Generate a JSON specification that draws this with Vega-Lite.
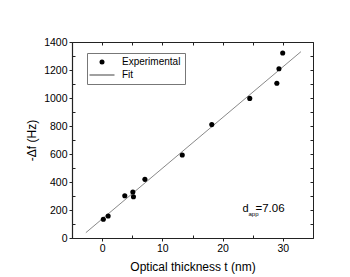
{
  "$schema": "https://vega.github.io/schema/vega-lite/v6.json",
  "width": 241,
  "height": 196,
  "autosize": {"type": "none"},
  "padding": {"left": 72, "top": 42, "right": 37, "bottom": 39},
  "background": "white",
  "config": {
    "font": "Liberation Sans",
    "view": {"stroke": "#222", "strokeWidth": 1},
    "axis": {"grid": false, "domainColor": "#222", "tickColor": "#222", "labelColor": "black", "titleColor": "black", "labelFont": "Liberation Sans", "titleFont": "Liberation Sans", "titleFontWeight": "normal"}
  },
  "data": {
    "values": [
      {"series": "Experimental", "t": 0.2, "df": 134},
      {"series": "Experimental", "t": 1.0, "df": 157},
      {"series": "Experimental", "t": 3.76, "df": 302},
      {"series": "Experimental", "t": 5.1, "df": 329},
      {"series": "Experimental", "t": 5.2, "df": 295},
      {"series": "Experimental", "t": 7.1, "df": 419},
      {"series": "Experimental", "t": 13.3, "df": 593},
      {"series": "Experimental", "t": 18.2, "df": 810},
      {"series": "Experimental", "t": 24.5, "df": 997},
      {"series": "Experimental", "t": 29.0, "df": 1105},
      {"series": "Experimental", "t": 29.35, "df": 1209},
      {"series": "Experimental", "t": 29.97, "df": 1321},
      {"series": "Fit", "t": -2.7, "df": 38},
      {"series": "Fit", "t": 33.0, "df": 1331}
    ]
  },
  "resolve": {"axis": {"x": "independent", "y": "independent"}},
  "layer": [
    {
      "transform": [{"filter": "datum.series === 'Fit'"}],
      "mark": {"type": "line", "color": "#555", "strokeWidth": 0.7},
      "encoding": {
        "x": {"field": "t", "type": "quantitative", "scale": {"domain": [-5, 35], "nice": false, "zero": false},
          "axis": {"orient": "top", "values": [0, 5, 10, 15, 20, 25, 30], "tickSize": -3, "labels": false, "title": null, "domainColor": "#222"}},
        "y": {"field": "df", "type": "quantitative", "scale": {"domain": [0, 1400], "nice": false},
          "axis": {"orient": "right", "values": [100, 200, 300, 400, 500, 600, 700, 800, 900, 1000, 1100, 1200, 1300], "tickSize": -3, "labels": false, "title": null}}
      }
    },
    {
      "transform": [{"filter": "datum.series === 'Experimental'"}],
      "mark": {"type": "point", "filled": true, "color": "black", "opacity": 1, "size": 26},
      "encoding": {
        "x": {"field": "t", "type": "quantitative",
          "axis": {"orient": "bottom", "values": [0, 5, 10, 15, 20, 25, 30], "tickSize": {"condition": {"test": "datum.value % 10 === 0", "value": 3}, "value": -3},
            "labelExpr": "datum.value % 10 === 0 ? datum.label : ''", "labelFontSize": 10.5, "labelPadding": 2,
            "title": "Optical thickness t (nm)", "titleFontSize": 12, "titlePadding": 8, "domainWidth": 1.2}},
        "y": {"field": "df", "type": "quantitative",
          "axis": {"orient": "left", "values": [0, 100, 200, 300, 400, 500, 600, 700, 800, 900, 1000, 1100, 1200, 1300, 1400], "tickSize": {"condition": {"test": "datum.value % 200 === 0", "value": 3}, "value": -3},
            "labelExpr": "datum.value % 200 === 0 ? datum.label : ''", "format": "d", "labelFontSize": 10.5, "labelPadding": 2,
            "title": "-Δf (Hz)", "titleFontSize": 12, "titlePadding": 5, "domainWidth": 1.2}},
        "shape": {"field": "series", "type": "nominal",
          "scale": {"domain": ["Experimental", "Fit"], "range": ["circle", "M-5,-0.15H5V0.15H-5Z"]},
          "legend": {"orient": "none", "legendX": 15, "legendY": 11, "title": null, "strokeColor": "#777", "fillColor": "white", "padding": 4,
            "symbolSize": 25, "symbolOffset": 6, "labelOffset": 15,
            "labelFontSize": 10, "labelFont": "Liberation Sans", "rowPadding": 3, "columnPadding": 0,
            "symbolFillColor": "black", "symbolStrokeWidth": 0, "symbolOpacity": 1}}
      }
    },
    {
      "data": {"values": [{"s": "d"}]},
      "mark": {"type": "text", "text": "d", "fontSize": 11, "align": "left", "baseline": "alphabetic", "color": "black"},
      "encoding": {"x": {"datum": 23.3, "axis": null}, "y": {"datum": 188, "axis": null}}
    },
    {
      "data": {"values": [{"s": "app"}]},
      "mark": {"type": "text", "text": "app", "fontSize": 6, "align": "left", "baseline": "alphabetic", "color": "black"},
      "encoding": {"x": {"datum": 24.3, "axis": null}, "y": {"datum": 160, "axis": null}}
    },
    {
      "data": {"values": [{"s": "=7.06"}]},
      "mark": {"type": "text", "text": "=7.06", "fontSize": 11.5, "align": "left", "baseline": "alphabetic", "color": "black"},
      "encoding": {"x": {"datum": 25.45, "axis": null}, "y": {"datum": 188, "axis": null}}
    }
  ]
}
